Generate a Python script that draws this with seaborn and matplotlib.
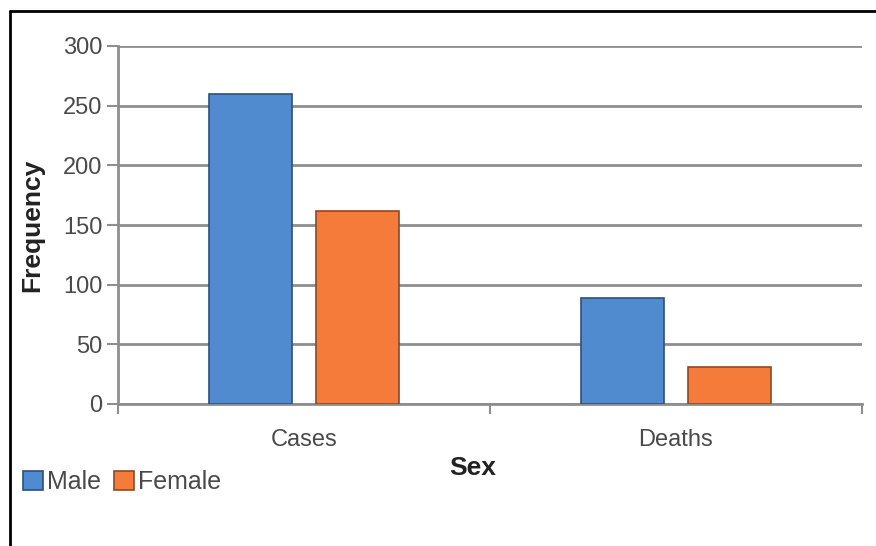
import matplotlib
matplotlib.use("Agg")
import matplotlib.pyplot as plt
import seaborn as sns
import pandas as pd
from matplotlib.lines import Line2D
from matplotlib.patches import Patch

# Frequencies by outcome and sex
categories = ["Cases", "Deaths"]
male = [260, 89]
female = [162, 31]
sexes = ["Male", "Female"]
y_ticks = [0, 50, 100, 150, 200, 250, 300]

df = pd.DataFrame({
    "Outcome": categories * 2,
    "Sex": ["Male"] * len(categories) + ["Female"] * len(categories),
    "Frequency": male + female,
})

sns.set_theme(style="white")
plt.rcParams["font.family"] = ["Liberation Sans", "DejaVu Sans"]

fill = {"Male": "#4F8BCE", "Female": "#F47B3A"}
edge = {"Male": "#2E4F78", "Female": "#8A4A28"}
grid_col = "#8E8E8E"
text_col = "#4A4A4A"

fig = plt.figure(figsize=(8.76, 5.46), dpi=100)
ax = fig.add_axes([118 / 876, 1 - 404 / 546, (862 - 118) / 876, (404 - 46) / 546])

sns.barplot(data=df, x="Outcome", y="Frequency", hue="Sex", order=categories,
            hue_order=sexes, palette=fill, saturation=1, width=0.575, gap=0.224,
            linewidth=1.2, edgecolor="#333333", legend=False, ax=ax, zorder=3)

for cont, s in zip(ax.containers, sexes):
    for bar in cont:
        bar.set_edgecolor(edge[s])

ax.set_ylim(0, 300)
ax.set_xlim(-0.5, 1.5)
ax.set_yticks(y_ticks)
ax.yaxis.grid(True, color=grid_col, linewidth=2.0, zorder=0)
ax.set_axisbelow(True)

for side in ["top", "right"]:
    ax.spines[side].set_visible(False)
for side in ["left", "bottom"]:
    ax.spines[side].set_color(grid_col)
    ax.spines[side].set_linewidth(2.0)

ax.tick_params(axis="y", which="major", direction="out", length=8, width=1.5,
               color=grid_col, labelsize=17, labelcolor=text_col, pad=3, left=True)
ax.tick_params(axis="x", which="major", length=0, labelsize=17,
               labelcolor=text_col, pad=18)
ax.set_xticks([-0.5, 0.5, 1.5], minor=True)
ax.tick_params(axis="x", which="minor", direction="out", length=7, width=1.5,
               color=grid_col, bottom=True)

ax.set_xlabel("Sex", fontsize=19, fontweight="bold", color="#222222")
ax.set_ylabel("Frequency", fontsize=19, fontweight="bold", color="#222222")
ax.xaxis.set_label_coords((473 - 118) / (862 - 118), -(468 - 404) / (404 - 46))
ax.yaxis.set_label_coords(-(118 - 32) / (862 - 118), 0.5)
ax.xaxis.label.set_va("center")
ax.yaxis.label.set_va("center")

handles = [Patch(facecolor=fill[s], edgecolor=edge[s], linewidth=1.2) for s in sexes]
fig.legend(handles, sexes, loc="center left", bbox_to_anchor=(0.026, 1 - 482 / 546),
           ncol=2, frameon=False, handlelength=0.8, handleheight=0.8,
           handletextpad=0.15, columnspacing=0.55, fontsize=18,
           labelcolor=text_col, borderaxespad=0, borderpad=0)

# Frame lines along the top and left edges
fig.add_artist(Line2D([10 / 876, 10 / 876], [0, 1 - 11 / 546], transform=fig.transFigure,
                      color="black", linewidth=2.0))
fig.add_artist(Line2D([10 / 876, 1], [1 - 11 / 546, 1 - 11 / 546], transform=fig.transFigure,
                      color="black", linewidth=2.0))

fig.savefig("out.png", dpi=100, facecolor="white")
